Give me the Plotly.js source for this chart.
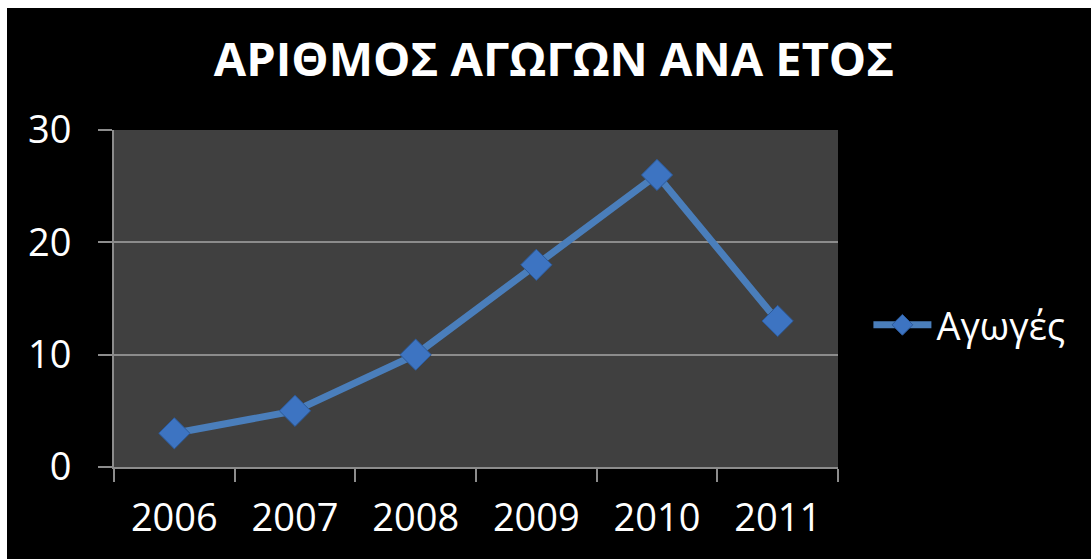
<!DOCTYPE html>
<html>
<head>
<meta charset="utf-8">
<script src="https://cdn.plot.ly/plotly-3.0.1.min.js"></script>
<style>
html,body{margin:0;padding:0;background:#ffffff;width:1091px;height:559px;overflow:hidden;}
#chart{position:absolute;left:7px;top:8px;width:1084px;height:551px;background:#000;}
</style>
</head>
<body>
<div id="chart"></div>
<script>
const years = ["2006", "2007", "2008", "2009", "2010", "2011"];
const lawsuits = [3, 5, 10, 18, 26, 13];
const seriesName = "Αγωγές";
const chartTitle = "ΑΡΙΘΜΟΣ ΑΓΩΓΩΝ ΑΝΑ ΕΤΟΣ";
const yTicks = [0, 10, 20, 30];

const FONT = "'Open Sans', 'Noto Sans', sans-serif";

const trace = {
  x: years,
  y: lawsuits,
  name: seriesName,
  type: "scatter",
  mode: "lines+markers",
  line: {color: "#4a7ebb", width: 7},
  marker: {symbol: "diamond", size: 24, color: "#3d74c2", line: {color: "#2c5a9a", width: 1}},
  showlegend: true
};

const layout = {
  width: 1084,
  height: 551,
  paper_bgcolor: "#000000",
  plot_bgcolor: "#404040",
  margin: {l: 107, r: 253, t: 122, b: 92},
  title: {
    text: "<b>" + chartTitle + "</b>",
    font: {family: FONT, size: 47, color: "#ffffff"},
    x: 547 / 1084, xanchor: "center",
    y: 1 - 52 / 551, yanchor: "middle"
  },
  xaxis: {
    type: "category",
    range: [-0.5, years.length - 0.5],
    tickson: "boundaries",
    ticks: "outside",
    ticklen: 13,
    tickwidth: 2,
    tickcolor: "#8c8c8c",
    showline: true,
    linecolor: "#8c8c8c",
    linewidth: 2,
    showgrid: false,
    tickfont: {family: FONT, size: 38, color: "#ffffff"},
    ticklabelstandoff: 16,
    fixedrange: true
  },
  yaxis: {
    range: [0, 30],
    tickvals: yTicks,
    ticks: "outside",
    ticklen: 14,
    tickwidth: 2,
    tickcolor: "#8c8c8c",
    showline: true,
    linecolor: "#8c8c8c",
    linewidth: 2,
    showgrid: true,
    gridcolor: "#8c8c8c",
    gridwidth: 2,
    zeroline: false,
    tickfont: {family: FONT, size: 38, color: "#ffffff"},
    ticklabelstandoff: 19,
    fixedrange: true
  },
  legend: {
    x: 1.042, xanchor: "left",
    y: 0.421, yanchor: "middle",
    font: {family: FONT, size: 38, color: "#ffffff"},
    bgcolor: "rgba(0,0,0,0)",
    itemwidth: 58
  },
  showlegend: true
};

Plotly.newPlot("chart", [trace], layout, {displayModeBar: false, staticPlot: true});
</script>
</body>
</html>
